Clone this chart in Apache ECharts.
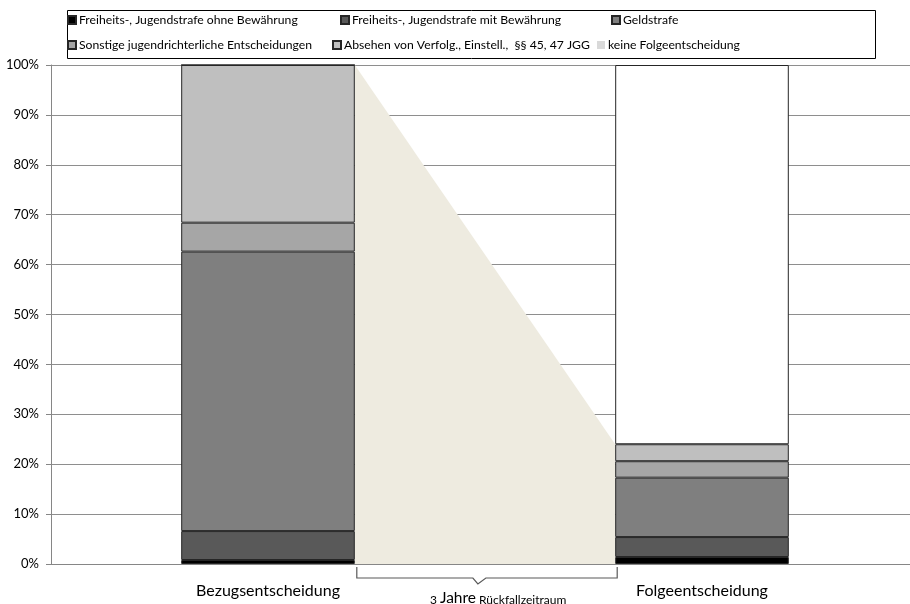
<!DOCTYPE html>
<html>
<head>
<meta charset="utf-8">
<title>Bezugs- und Folgeentscheidung</title>
<script src="https://cdn.jsdelivr.net/npm/echarts@6/dist/echarts.min.js"></script>
<style>
html, body { margin: 0; padding: 0; background: #fff; }
#main { width: 910px; height: 604px; }
</style>
</head>
<body>
<div id="main"></div>
<script>
// categories and stacked shares (%)
var categories = ['Bezugsentscheidung', 'Folgeentscheidung'];
var ohneBewaehrung = [0.8, 1.4];
var mitBewaehrung = [5.8, 4.0];
var geldstrafe = [56.0, 11.9];
var sonstige = [5.8, 3.3];
var absehen = [31.6, 3.4];
var keineFolge = [0, 76.0];
var seriesNames = [
	'Freiheits-, Jugendstrafe ohne Bewährung',
	'Freiheits-, Jugendstrafe mit Bewährung',
	'Geldstrafe',
	'Sonstige jugendrichterliche Entscheidungen',
	'Absehen von Verfolg., Einstell.,  §§ 45, 47 JGG',
	'keine Folgeentscheidung'
];
var bracketLabel = ['3 ', 'Jahre', ' Rückfallzeitraum'];

var values = [ohneBewaehrung, mitBewaehrung, geldstrafe, sonstige, absehen, keineFolge];
var colors = ['#000000', '#595959', '#7f7f7f', '#a6a6a6', '#bfbfbf', '#ffffff'];
var FONT = 'Lato, "Open Sans", sans-serif';
var BAR = 0.4;

// top of the coloured part of each bar (everything but "keine Folgeentscheidung")
function colouredTop(i) {
	var s = 0;
	for (var k = 0; k < 5; k++) s += values[k][i];
	return s;
}

var myChart = echarts.init(document.getElementById('main'));

var series = [];
for (var k = 0; k < 6; k++) {
	series.push({
		name: seriesNames[k],
		type: 'bar',
		stack: 'all',
		barWidth: (BAR * 100) + '%',
		z: 3,
		itemStyle: { color: colors[k], borderColor: '#262626', borderWidth: 1 },
		data: values[k]
	});
}

// wedge between the two bars
series.push({
	type: 'custom',
	name: 'wedge',
	z: 1,
	silent: true,
	data: [[0, colouredTop(0), 1, colouredTop(1)]],
	renderItem: function (params, api) {
		var p0 = api.coord([api.value(0), api.value(1)]);
		var p1 = api.coord([api.value(2), api.value(3)]);
		var base = api.coord([0, 0])[1];
		var half = api.size([1, 0])[0] * BAR / 2;
		var x0 = p0[0] + half, x1 = p1[0] - half;
		return {
			type: 'polygon',
			shape: { points: [[x0, p0[1]], [x1, p1[1]], [x1, base], [x0, base]] },
			style: { fill: '#eeebe0' }
		};
	}
});

// bracket under the wedge
series.push({
	type: 'custom',
	name: 'bracket',
	z: 1,
	silent: true,
	clip: false,
	data: [[0, 1]],
	renderItem: function (params, api) {
		var half = api.size([1, 0])[0] * BAR / 2;
		var x0 = api.coord([api.value(0), 0])[0] + half + 2;
		var x1 = api.coord([api.value(1), 0])[0] - half + 2;
		var y = api.coord([0, 0])[1];
		var xm = x0 + (x1 - x0) * 0.465;
		return {
			type: 'group',
			children: [{
				type: 'polyline',
				shape: { points: [[x0, y + 3], [x0, y + 14], [xm - 5, y + 14], [xm, y + 20],
					[xm + 8, y + 14], [x1, y + 14], [x1, y + 3]] },
				style: { stroke: '#595959', lineWidth: 1.2, fill: null }
			}, {
				type: 'text',
				style: {
					x: xm - 48, y: y + 42,
					text: '{a|' + bracketLabel[0] + '}{b|' + bracketLabel[1] + '}{a|' + bracketLabel[2] + '}',
					align: 'left', verticalAlign: 'bottom',
					rich: {
						a: { fontFamily: FONT, fontSize: 12, fill: '#000', verticalAlign: 'bottom' },
						b: { fontFamily: FONT, fontSize: 15.5, fill: '#000', verticalAlign: 'bottom' }
					}
				}
			}]
		};
	}
});

// one legend per entry so the columns line up like the original
var legendPos = [[67, 14], [340, 14], [611, 14], [67, 39], [332, 39], [597, 39]];
var legends = [];
for (var k = 0; k < 6; k++) {
	var item = { name: seriesNames[k] };
	if (k === 5) item.itemStyle = { color: '#d9d9d9', borderWidth: 0 };
	legends.push({
		left: legendPos[k][0], top: legendPos[k][1],
		padding: 0,
		itemWidth: 8, itemHeight: 8,
		icon: 'rect',
		selectedMode: false,
		textStyle: { fontFamily: FONT, fontSize: 12.2, color: '#000', padding: [0, 0, 0, -2] },
		data: [item]
	});
}

option = {
	animation: false,
	backgroundColor: '#fff',
	legend: legends,
	graphic: [{
		type: 'rect',
		left: 65, top: 8,
		shape: { width: 808, height: 48 },
		style: { fill: null, stroke: '#000', lineWidth: 1 }
	}],
	grid: { left: 51, top: 65, width: 868, bottom: 40, outerBoundsMode: 'none', containLabel: false },
	xAxis: {
		type: 'category',
		data: categories,
		axisLine: { lineStyle: { color: '#868686', width: 1 } },
		axisTick: { show: false },
		axisLabel: { fontFamily: FONT, fontSize: 16, color: '#000', margin: 19 }
	},
	yAxis: {
		type: 'value',
		min: 0, max: 100, interval: 10,
		axisLine: { show: true, lineStyle: { color: '#868686' } },
		axisTick: { show: true, length: 5, lineStyle: { color: '#868686' } },
		splitLine: { lineStyle: { color: '#8e8e8e' } },
		axisLabel: { fontFamily: FONT, fontSize: 13, color: '#000', margin: 12, formatter: '{value}%' }
	},
	series: series
};
myChart.setOption(option);
</script>
</body>
</html>
